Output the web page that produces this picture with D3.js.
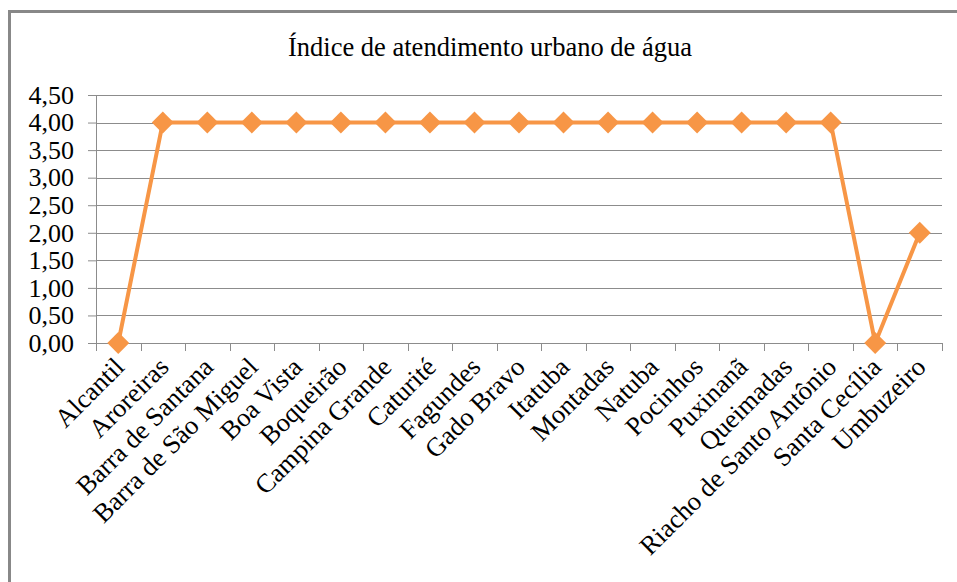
<!DOCTYPE html>
<html>
<head>
<meta charset="utf-8">
<script src="https://cdn.jsdelivr.net/npm/d3@7"></script>
<style>
  body { margin: 0; background: #fff; }
  text { font-family: 'Liberation Serif', 'Times New Roman', serif; fill: #000; }
</style>
</head>
<body>
<script>
const title = 'Índice de atendimento urbano de água'

const categories = [
  'Alcantil', 'Aroreiras', 'Barra de Santana', 'Barra de São Miguel', 'Boa Vista',
  'Boqueirão', 'Campina Grande', 'Caturité', 'Fagundes', 'Gado Bravo', 'Itatuba',
  'Montadas', 'Natuba', 'Pocinhos', 'Puxinanã', 'Queimadas',
  'Riacho de Santo Antônio', 'Santa Cecília', 'Umbuzeiro'
]

const values = [0, 4, 4, 4, 4, 4, 4, 4, 4, 4, 4, 4, 4, 4, 4, 4, 4, 0, 2]

const yTicks = [0, 0.5, 1, 1.5, 2, 2.5, 3, 3.5, 4, 4.5]

const width = 957
const height = 582
const margin = { left: 96, top: 95, right: 15, bottom: 239 }
const innerWidth = width - margin.left - margin.right
const innerHeight = height - margin.top - margin.bottom

const lineColor = '#F79646'
const gridColor = '#8c8c8c'

const fmt = d => d3.format('.2f')(d).replace('.', ',')

const svg = d3.select('body').append('svg')
  .attr('width', width)
  .attr('height', height)

// chart border (runs off the right and bottom of the picture)
svg.append('rect')
  .attr('x', 9.5)
  .attr('y', 11.5)
  .attr('width', 980)
  .attr('height', 620)
  .attr('fill', 'none')
  .attr('stroke', '#888')
  .attr('stroke-width', 3)

svg.append('text')
  .attr('x', 490)
  .attr('y', 56)
  .attr('text-anchor', 'middle')
  .style('font-size', '26.5px')
  .text(title)

const g = svg.append('g')
  .attr('transform', 'translate(' + margin.left + ',' + margin.top + ')')

const xScale = d3.scaleBand()
  .range([0, innerWidth])
  .domain(categories)

const yScale = d3.scaleLinear()
  .range([innerHeight, 0])
  .domain([0, 4.5])

// horizontal gridlines
g.selectAll('.grid')
  .data(yTicks)
  .enter()
  .append('line')
  .attr('class', 'grid')
  .attr('x1', 0)
  .attr('x2', innerWidth)
  .attr('y1', d => Math.round(yScale(d)) + 0.5)
  .attr('y2', d => Math.round(yScale(d)) + 0.5)
  .attr('stroke', gridColor)
  .attr('stroke-width', 1)

// y axis
const yAxis = g.append('g')
  .attr('class', 'axis axis--y')
  .call(d3.axisLeft(yScale).tickValues(yTicks).tickFormat(fmt).tickSize(8).tickPadding(14))
yAxis.select('.domain').attr('stroke', gridColor)
yAxis.selectAll('.tick line').attr('stroke', gridColor)
yAxis.selectAll('.tick text')
  .style('font-size', '26px')
  .style('font-family', "'Liberation Serif', serif")
  .attr('fill', '#000')

// x axis: ticks sit on the category boundaries
const bounds = categories.map(c => xScale(c)).concat([innerWidth])
const xAxis = g.append('g')
  .attr('class', 'axis axis--x')
  .attr('transform', 'translate(0,' + innerHeight + ')')
xAxis.append('line')
  .attr('x1', 0)
  .attr('x2', innerWidth)
  .attr('y1', 0.5)
  .attr('y2', 0.5)
  .attr('stroke', gridColor)
xAxis.selectAll('.tk')
  .data(bounds)
  .enter()
  .append('line')
  .attr('class', 'tk')
  .attr('x1', d => Math.round(d) + 0.5)
  .attr('x2', d => Math.round(d) + 0.5)
  .attr('y1', 0)
  .attr('y2', 8)
  .attr('stroke', gridColor)

xAxis.selectAll('.lbl')
  .data(categories)
  .enter()
  .append('text')
  .attr('class', 'lbl')
  .attr('text-anchor', 'end')
  .attr('transform', d => 'translate(' + (xScale(d) + xScale.bandwidth() / 2 + 1) + ',19) rotate(-45)')
  .attr('dy', '0.35em')
  .style('font-size', '26.5px')
  .text(d => d)

const cx = (d, i) => xScale(categories[i]) + xScale.bandwidth() / 2

const line = d3.line()
  .x(cx)
  .y(d => yScale(d))

g.append('path')
  .datum(values)
  .attr('fill', 'none')
  .attr('stroke', lineColor)
  .attr('stroke-width', 4)
  .attr('stroke-linejoin', 'round')
  .attr('d', line)

g.selectAll('.marker')
  .data(values)
  .enter()
  .append('path')
  .attr('class', 'marker')
  .attr('d', d3.symbol(d3.symbolSquare, 240))
  .attr('transform', (d, i) => 'translate(' + cx(d, i) + ',' + yScale(d) + ') rotate(45)')
  .attr('fill', lineColor)
</script>
</body>
</html>
